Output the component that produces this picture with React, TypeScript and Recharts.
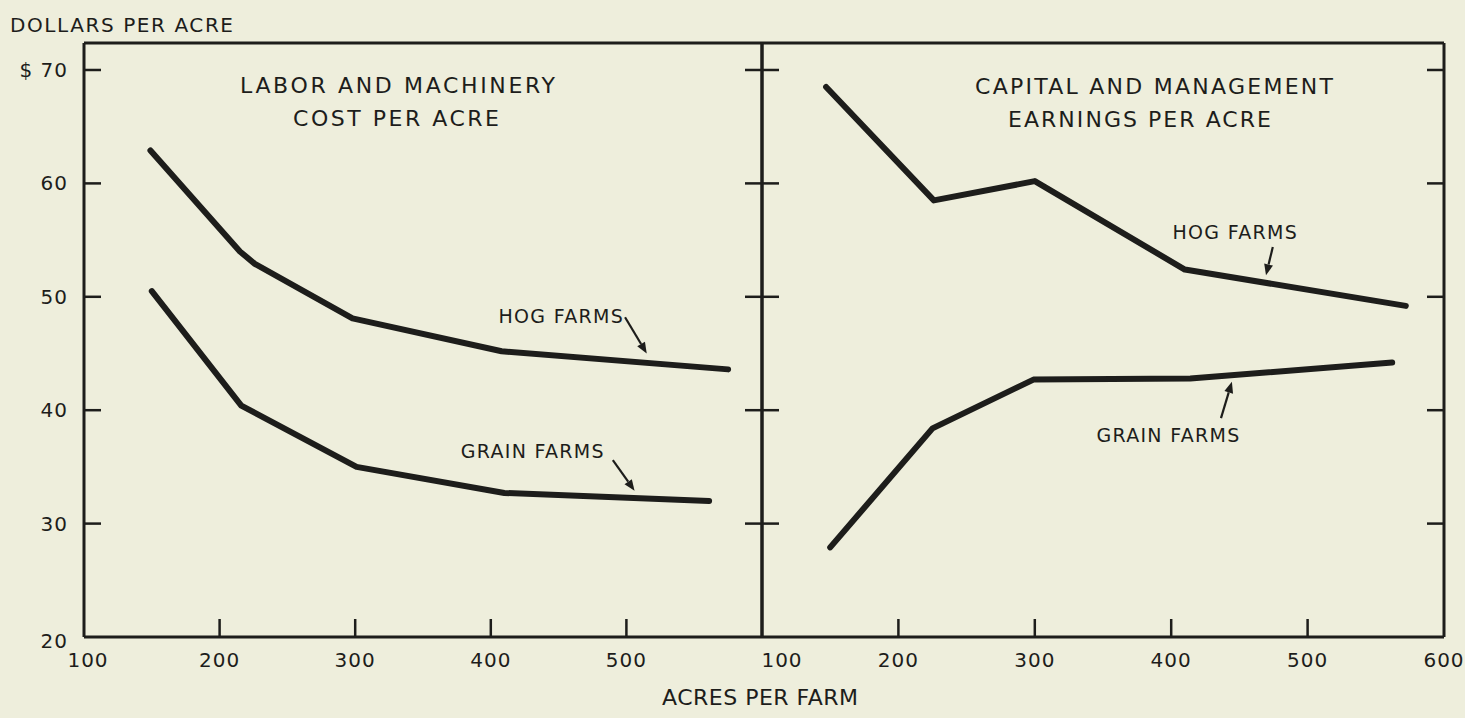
import React from "react";
import { LineChart, Line, XAxis, YAxis, ReferenceLine, ReferenceDot } from "recharts";

// acres per farm / dollars per acre
const acreTicks = [100, 200, 300, 400, 500, 600];
const dollarTicks = [20, 30, 40, 50, 60, 70];

const laborHogAcres = [149, 215, 226, 298, 408, 575];
const laborHogCost = [62.9, 54.0, 52.9, 48.1, 45.2, 43.6];
const laborGrainAcres = [150, 216, 301, 410, 561];
const laborGrainCost = [50.5, 40.4, 35.0, 32.7, 32.0];

const earnHogAcres = [147, 226, 300, 410, 572];
const earnHogValue = [68.5, 58.5, 60.2, 52.4, 49.2];
const earnGrainAcres = [150, 225, 299, 414, 562];
const earnGrainValue = [27.9, 38.4, 42.7, 42.8, 44.2];

// callouts, in data units of their panel
const laborNotes = [
  { text: "HOG FARMS", x: 452, y: 48.3, from: [499, 48.2], to: [515, 45.0] },
  { text: "GRAIN FARMS", x: 431, y: 36.4, from: [490, 35.6], to: [506, 32.9] },
];
const earnNotes = [
  { text: "HOG FARMS", x: 447, y: 55.7, from: [474.5, 54.4], to: [469.5, 51.9] },
  { text: "GRAIN FARMS", x: 398, y: 37.8, from: [436.5, 39.3], to: [444.5, 42.5] },
];

const INK = "#1d1d1b";
const BG = "#eeeedc";
const FONT = "'DejaVu Sans', sans-serif";
const Y_TOP = 72.38;

const toRows = (xs: number[], ys: number[]) => xs.map((a, i) => ({ acres: a, v: ys[i] }));

function Arrow(props: any) {
  const { x1, y1, x2, y2 } = props;
  const a = Math.atan2(y2 - y1, x2 - x1);
  const len = 11;
  const w = 4.5;
  const bx = x2 - len * Math.cos(a);
  const by = y2 - len * Math.sin(a);
  const p1 = `${bx + w * Math.sin(a)},${by - w * Math.cos(a)}`;
  const p2 = `${bx - w * Math.sin(a)},${by + w * Math.cos(a)}`;
  return (
    <g>
      <line x1={x1} y1={y1} x2={bx} y2={by} stroke={INK} strokeWidth={2.2} />
      <polygon points={`${x2},${y2} ${p1} ${p2}`} fill={INK} />
    </g>
  );
}

function Panel({ left, right, hog, grain, notes, firstDx, lastLabel, yLabels }: any) {
  const bottomTick = (p: any) => {
    const v = p.payload.value;
    const inner = v !== 100 && v !== 600;
    const show = v !== 600 || lastLabel;
    return (
      <g>
        {inner && <line x1={p.x} y1={p.y} x2={p.x} y2={p.y - 18} stroke={INK} strokeWidth={2.5} />}
        {show && (
          <text x={p.x + (v === 100 ? firstDx : 0)} y={p.y + 30} textAnchor="middle" fontFamily={FONT}
            fontSize={20} letterSpacing={1} fill={INK}>
            {v}
          </text>
        )}
      </g>
    );
  };
  const leftTick = (p: any) => {
    const v = p.payload.value;
    return (
      <g>
        {v !== 20 && <line x1={p.x} y1={p.y} x2={p.x + 17} y2={p.y} stroke={INK} strokeWidth={2.5} />}
        {yLabels && (
          <text x={p.x - 16} y={p.y + (v === 20 ? 11 : 7)} textAnchor="end" fontFamily={FONT}
            fontSize={20} letterSpacing={1} fill={INK}>
            {v === 70 ? "$ 70" : v}
          </text>
        )}
      </g>
    );
  };
  const rightTick = (p: any) => {
    const v = p.payload.value;
    return v !== 20 ? <line x1={p.x} y1={p.y} x2={p.x - 17} y2={p.y} stroke={INK} strokeWidth={2.5} /> : <g />;
  };
  const noTick = () => <g />;
  const axisLine = { stroke: INK, strokeWidth: 3 };
  return (
    <div style={{ position: "absolute", left: 0, top: 0 }}>
      <LineChart width={1465} height={718} margin={{ top: 42, left: left - 1, right: right - 1, bottom: 80 }}>
        <XAxis xAxisId="b" type="number" dataKey="acres" domain={[100, 600]} ticks={acreTicks} interval={0}
          height={1} tickSize={0} tickMargin={0} tickLine={false} axisLine={axisLine} tick={bottomTick} />
        <XAxis xAxisId="t" orientation="top" type="number" domain={[100, 600]} ticks={acreTicks} interval={0}
          height={1} tickSize={0} tickMargin={0} tickLine={false} axisLine={axisLine} tick={noTick} />
        <YAxis yAxisId="l" type="number" domain={[20, Y_TOP]} allowDataOverflow ticks={dollarTicks} interval={0}
          width={1} tickSize={0} tickMargin={0} tickLine={false} axisLine={axisLine} tick={leftTick} />
        <YAxis yAxisId="r" orientation="right" type="number" domain={[20, Y_TOP]} allowDataOverflow ticks={dollarTicks}
          interval={0} width={1} tickSize={0} tickMargin={0} tickLine={false} axisLine={axisLine} tick={rightTick} />
        {[hog, grain].map((rows: any, i: number) => (
          <Line key={i} xAxisId="b" yAxisId="l" data={rows} dataKey="v" type="linear" stroke={INK}
            strokeWidth={6} strokeLinecap="round" strokeLinejoin="round" dot={false} isAnimationActive={false} />
        ))}
        {notes.map((n: any) => (
          <ReferenceDot key={n.text} xAxisId="b" yAxisId="l" x={n.x} y={n.y}
            shape={(p: any) => (
              <text x={p.cx} y={p.cy + 7} textAnchor="middle" fontFamily={FONT} fontSize={19}
                letterSpacing={1.3} fill={INK}>
                {n.text}
              </text>
            )} />
        ))}
        {notes.map((n: any) => (
          <ReferenceLine key={n.text + "-arrow"} xAxisId="b" yAxisId="l"
            segment={[{ x: n.from[0], y: n.from[1] }, { x: n.to[0], y: n.to[1] }]} shape={Arrow} />
        ))}
      </LineChart>
    </div>
  );
}

export default function App() {
  const t = { fontFamily: FONT, fill: INK };
  return (
    <div style={{ position: "absolute", left: 0, top: 0, width: 1465, height: 718, background: BG, overflow: "hidden" }}>
      <Panel left={84} right={1465 - 762} hog={toRows(laborHogAcres, laborHogCost)}
        grain={toRows(laborGrainAcres, laborGrainCost)} notes={laborNotes} firstDx={4} lastLabel={false} yLabels />
      <Panel left={762} right={1465 - 1444} hog={toRows(earnHogAcres, earnHogValue)}
        grain={toRows(earnGrainAcres, earnGrainValue)} notes={earnNotes} firstDx={20} lastLabel yLabels={false} />
      <svg width={1465} height={718} style={{ position: "absolute", left: 0, top: 0, pointerEvents: "none" }}>
        <text {...t} x={10} y={32} fontSize={20} textLength={223} lengthAdjust="spacing">DOLLARS PER ACRE</text>
        <text {...t} x={240} y={93} fontSize={22} textLength={315} lengthAdjust="spacing">LABOR AND MACHINERY</text>
        <text {...t} x={293} y={126} fontSize={22} textLength={206} lengthAdjust="spacing">COST PER ACRE</text>
        <text {...t} x={975} y={94} fontSize={22} textLength={358} lengthAdjust="spacing">CAPITAL AND MANAGEMENT</text>
        <text {...t} x={1008} y={127} fontSize={22} textLength={263} lengthAdjust="spacing">EARNINGS PER ACRE</text>
        <text {...t} x={662} y={705} fontSize={22} textLength={196} lengthAdjust="spacing">ACRES PER FARM</text>
      </svg>
    </div>
  );
}
